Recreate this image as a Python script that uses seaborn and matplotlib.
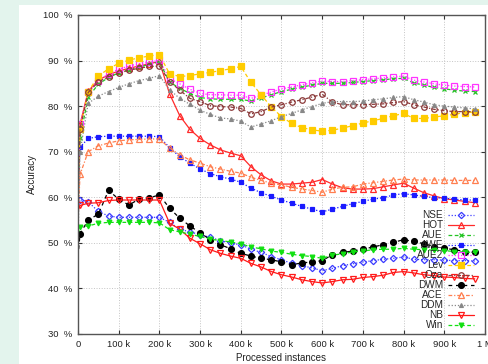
import matplotlib
matplotlib.use('Agg')
import pandas as pd
import matplotlib.pyplot as plt
from matplotlib.patches import Rectangle
from matplotlib.ticker import FuncFormatter, MultipleLocator
import seaborn as sns

# processed instances (thousands)
instances_k = [0, 5, 25, 50, 75, 100, 125, 150, 175, 200,
               225, 250, 275, 300, 325, 350, 375, 400, 425, 450,
               475, 500, 525, 550, 575, 600, 625, 650, 675, 700,
               725, 750, 775, 800, 825, 850, 875, 900, 925, 950, 975]

nse = [57.0, 59.5, 59.0, 56.9, 55.9, 55.6, 55.6, 55.6, 55.6, 55.6,
       54.5, 53.0, 52.4, 51.8, 51.2, 50.5, 49.9, 49.6, 48.6, 47.9,
       47.0, 46.3, 45.5, 45.0, 44.5, 43.9, 44.4, 45.0, 45.4, 45.8,
       46.1, 46.4, 46.6, 46.9, 46.4, 46.3, 46.3, 46.2, 46.1, 46.1, 46.0]
hot = [58.0, 76.0, 83.3, 85.7, 86.9, 87.7, 88.3, 88.8, 89.3, 89.8,
       82.7, 77.9, 74.9, 72.9, 71.5, 70.4, 69.7, 69.1, 66.7, 64.9,
       63.6, 62.9, 62.9, 63.1, 63.3, 63.9, 62.9, 62.1, 61.8, 61.8,
       61.9, 62.3, 62.7, 63.1, 62.0, 61.0, 60.3, 59.7, 59.4, 59.1, 58.8]
aue = [58.0, 73.0, 82.0, 84.8, 86.3, 87.3, 88.0, 88.5, 89.2, 89.7,
       85.3, 83.9, 82.8, 81.9, 81.6, 81.5, 81.5, 81.5, 81.1, 81.8,
       82.5, 83.2, 83.7, 84.2, 84.6, 85.0, 85.0, 85.0, 85.2, 85.4,
       85.6, 85.8, 86.0, 86.1, 85.1, 84.6, 84.1, 83.8, 83.5, 83.3, 83.2]
awe = [60.0, 71.0, 72.9, 73.3, 73.4, 73.4, 73.4, 73.4, 73.4, 73.3,
       70.9, 68.9, 67.5, 66.2, 65.2, 64.5, 64.0, 63.3, 62.0, 61.0,
       60.2, 59.4, 58.7, 58.0, 57.4, 56.8, 57.4, 58.0, 58.6, 59.1,
       59.6, 59.9, 60.5, 60.8, 60.5, 60.2, 59.9, 59.8, 59.6, 59.4, 59.4]
aue2 = [58.0, 76.0, 83.0, 85.6, 87.1, 88.1, 88.8, 89.3, 89.6, 90.1,
        86.0, 84.9, 83.7, 82.8, 82.5, 82.5, 82.4, 82.4, 81.7, 82.4,
        83.1, 83.8, 84.2, 84.7, 85.1, 85.5, 85.4, 85.4, 85.6, 85.8,
        86.0, 86.2, 86.4, 86.6, 85.7, 85.3, 84.9, 84.6, 84.4, 84.3, 84.2]
lev = [60.0, 75.0, 83.2, 86.6, 88.2, 89.4, 90.1, 90.6, 91.0, 91.3,
       87.1, 86.5, 86.7, 87.1, 87.4, 87.8, 88.2, 88.7, 85.2, 82.5,
       79.8, 77.7, 76.2, 75.3, 74.8, 74.5, 74.7, 75.2, 75.7, 76.3,
       76.8, 77.3, 77.9, 78.4, 77.3, 77.3, 77.6, 77.9, 78.2, 78.6, 78.7]
oza = [58.0, 75.0, 83.0, 85.3, 86.5, 87.2, 87.9, 88.3, 88.7, 88.8,
       85.4, 83.5, 81.7, 81.0, 80.1, 79.9, 79.8, 79.5, 78.3, 78.8,
       79.8, 80.3, 80.9, 81.4, 82.0, 82.6, 80.9, 80.3, 80.3, 80.3,
       80.4, 80.5, 80.8, 81.0, 80.3, 79.8, 79.3, 79.0, 78.8, 78.8, 78.8]
dwm = [47.0, 52.0, 55.0, 56.3, 61.5, 59.6, 58.3, 59.6, 59.9, 60.5,
       57.6, 55.4, 53.7, 52.2, 50.7, 49.6, 48.7, 47.7, 47.1, 46.6,
       46.3, 45.8, 45.2, 45.6, 45.8, 46.1, 47.4, 47.9, 48.2, 48.6,
       49.1, 49.6, 50.1, 50.7, 50.3, 49.8, 49.2, 48.8, 48.5, 48.1, 47.9]
ace = [55.0, 65.0, 70.0, 71.3, 71.9, 72.4, 72.6, 72.7, 72.8, 72.8,
       70.8, 69.3, 68.2, 67.5, 66.7, 66.2, 65.7, 65.3, 64.4, 63.7,
       63.1, 62.7, 62.2, 61.8, 61.5, 61.1, 61.8, 62.2, 62.3, 62.9,
       63.2, 63.5, 63.8, 64.0, 63.8, 63.8, 63.8, 63.8, 63.7, 63.7, 63.7]
ddm = [50.0, 70.0, 80.6, 82.2, 83.2, 84.1, 84.9, 85.6, 86.1, 86.7,
       83.6, 81.7, 80.4, 79.1, 78.2, 77.4, 77.2, 76.7, 75.4, 76.1,
       76.8, 77.7, 78.4, 79.2, 79.9, 80.6, 81.0, 81.0, 81.0, 81.1,
       81.4, 81.6, 81.9, 82.1, 81.4, 80.9, 80.3, 80.0, 79.8, 79.6, 79.4]
nb = [57.0, 58.2, 58.7, 58.8, 59.3, 59.4, 59.4, 59.4, 59.4, 59.4,
      54.3, 53.0, 51.0, 49.8, 48.5, 47.7, 47.1, 46.6, 45.5, 44.7,
      43.7, 43.0, 42.5, 41.9, 41.5, 41.2, 41.5, 41.9, 42.0, 42.4,
      42.6, 42.9, 43.5, 43.7, 43.4, 43.0, 42.8, 42.5, 42.4, 42.2, 42.1]
win = [52.0, 53.5, 53.7, 54.3, 54.5, 54.5, 54.5, 54.5, 54.5, 54.4,
       52.9, 52.4, 51.9, 51.4, 50.8, 50.5, 50.2, 49.8, 49.1, 48.7,
       48.2, 47.9, 47.5, 47.2, 47.0, 46.6, 47.3, 47.6, 48.0, 48.2,
       48.5, 48.6, 48.6, 48.8, 48.6, 48.5, 48.4, 48.3, 48.1, 48.0, 47.9]

methods = ['NSE', 'HOT', 'AUE', 'AWE', 'AUE2', 'Lev', 'Oza', 'DWM', 'ACE', 'DDM', 'NB', 'Win']
values = [nse, hot, aue, awe, aue2, lev, oza, dwm, ace, ddm, nb, win]

rows = []
for name, vals in zip(methods, values):
    for x, v in zip(instances_k, vals):
        rows.append({'method': name, 'instances': x * 1000, 'accuracy': v})
df = pd.DataFrame(rows)

# line styles: color, marker, size, filled, linestyle
estilos = {
    'NSE':  ('#3a3aff', 'D', 3.2, False, (0, (1, 1.5))),
    'HOT':  ('#ff2a2a', '^', 4.0, False, '-'),
    'AUE':  ('#22c422', 'x', 3.5, False, (0, (3, 2))),
    'AWE':  ('#1a1aff', 's', 3.2, True, (0, (1, 1.5))),
    'AUE2': ('#ff33ff', 's', 4.6, False, (0, (1, 1.5))),
    'Lev':  ('#ffcc00', 's', 4.4, True, (0, (3, 2))),
    'Oza':  ('#8b3a3a', 'o', 4.0, False, (0, (3, 1.5, 1, 1.5))),
    'DWM':  ('#000000', 'o', 4.2, True, (0, (3, 3))),
    'ACE':  ('#ff7f50', '^', 3.8, False, (0, (3, 1.5, 1, 1.5))),
    'DDM':  ('#888888', '^', 2.8, True, (0, (1, 1.5))),
    'NB':   ('#ff1a1a', 'v', 4.0, False, '-'),
    'Win':  ('#11e011', 'v', 3.4, True, (0, (3, 2))),
}

sns.set_theme(style='ticks')
plt.rcParams['font.family'] = ['Liberation Sans', 'DejaVu Sans']
plt.rcParams['xtick.direction'] = 'in'
plt.rcParams['ytick.direction'] = 'in'

fig = plt.figure(figsize=(4.89, 3.64), dpi=100, facecolor='#e3f4ed')
# white panel behind the chart
fig.patches.append(Rectangle((19 / 489, 0), 1, 1 - 5 / 364, transform=fig.transFigure,
                             facecolor='white', edgecolor='none', zorder=-10))
ax = fig.add_axes([78 / 489, 1 - 334 / 364, (485 - 78) / 489, (334 - 15) / 364])
ax.set_facecolor('white')

for name in methods:
    cor, mk, ms, cheio, ls = estilos[name]
    sub = df[df['method'] == name]
    sns.lineplot(data=sub, x='instances', y='accuracy', ax=ax, label=name,
                 color=cor, marker=mk, markersize=ms, linestyle=ls, linewidth=0.9,
                 markerfacecolor=cor if cheio else 'none', markeredgecolor=cor,
                 markeredgewidth=0.9, markevery=slice(1, None),
                 errorbar=None, sort=False)

ax.set_xlim(0, 1000000)
ax.set_ylim(30, 100)
ax.xaxis.set_major_locator(MultipleLocator(100000))
ax.yaxis.set_major_locator(MultipleLocator(10))


def fmt_x(v, pos):
    if v == 0:
        return '0'
    if v >= 1000000:
        return '%g M' % (v / 1000000)
    return '%g k' % (v / 1000)


ax.xaxis.set_major_formatter(FuncFormatter(fmt_x))
ax.yaxis.set_major_formatter(FuncFormatter(lambda v, p: '%g  %%' % v))
ax.tick_params(axis='both', labelsize=6.8, length=3, width=0.8, color='#333333',
               top=True, right=True, pad=4, labelcolor='#222222')
ax.grid(True, linestyle=':', color='#c4c4c4', linewidth=0.7)
for s in ax.spines.values():
    s.set_color('#555555')
    s.set_linewidth(1.0)

ax.set_xlabel('Processed instances', fontsize=7, color='#222222', labelpad=3)
ax.set_ylabel('Accuracy', fontsize=7, color='#222222', labelpad=4)

handles, labels = ax.get_legend_handles_labels()
ax.legend(handles, labels, loc='upper right', bbox_to_anchor=(0.973, 0.388),
          frameon=False, markerfirst=False, fontsize=7.2, handlelength=2.6,
          handletextpad=0.5, labelspacing=0.0, borderpad=0, borderaxespad=0)

fig.savefig('out.png', dpi=100, facecolor=fig.get_facecolor())
